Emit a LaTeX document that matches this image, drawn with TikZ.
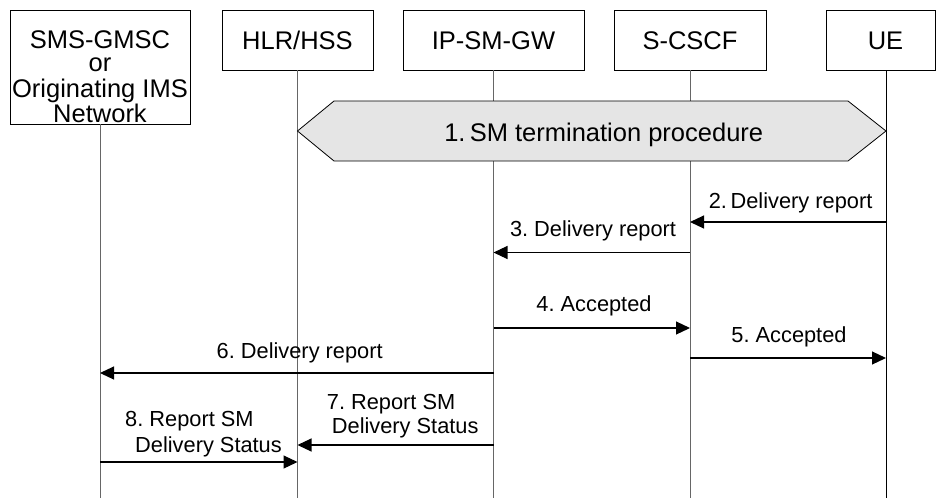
\documentclass[tikz,border=0pt]{standalone}
\usepackage{fontspec}
\setmainfont{Liberation Sans}
\usetikzlibrary{arrows.meta}
\frenchspacing
\begin{document}
\begin{tikzpicture}[x=1pt,y=-1pt,
  ent/.style={draw=black,line width=0.9pt,minimum height=60pt,inner sep=0pt,
    font=\fontsize{25.5}{23.3}\selectfont,text height=18.3pt,text depth=0pt},
  life/.style={draw=black!60,line width=1pt},
  msg/.style={draw=black,line width=1.1pt,-{Triangle[length=14pt,width=13pt]}},
  lbl/.style={inner sep=0pt,anchor=base,font=\fontsize{21.8}{24}\selectfont\frenchspacing},
  proc/.style={draw=black,line width=0.8pt,fill=black!10}]
\useasboundingbox (0,0) rectangle (936,498);

% entities
\node[ent,minimum width=180pt,minimum height=114pt,text height=32.5pt,text depth=70pt]
  (gmsc) at (100,67) {\begin{tabular}[t]{@{}c@{}}SMS-GMSC\\or\\Originating IMS\\Network\end{tabular}};
\node[ent,minimum width=151pt] (hlr) at (297.5,40) {HLR/HSS};
\node[ent,minimum width=181pt] (ipsm) at (493.5,40) {IP-SM-GW};
\node[ent,minimum width=152pt] (scscf) at (690,40) {S-CSCF};
\node[ent,minimum width=109.5pt] (ue) at (880.75,40) {\hspace*{9.5pt}UE};

% lifeline ends
\coordinate (gmscEnd) at (100,498);
\coordinate (hlrEnd) at (297.5,498);
\coordinate (ipsmEnd) at (493.5,498);
\coordinate (scscfEnd) at (690,498);
\coordinate (ueEnd) at (886,498);

\draw[life] (gmsc) -- (gmscEnd);
\draw[life] (hlr) -- (hlrEnd);
\draw[life] (ipsm) -- (ipsmEnd);
\draw[life] (scscf) -- (scscfEnd);
\draw[draw=black,line width=1pt] (ue.south -| ueEnd) -- (ueEnd);

% procedure hexagon
\draw[proc] (297.5,131) -- (334,101) -- (848,101) -- (886,131) -- (848,161) -- (334,161) -- cycle;
\node[lbl,font=\fontsize{25.5}{28}\selectfont] (smterm) at (603.7,141.7) {1.\,SM termination procedure};

% message points
\coordinate (m2a) at (886,222);   \coordinate (m2b) at (690,222);
\coordinate (m3a) at (690,252.5); \coordinate (m3b) at (493.5,252.5);
\coordinate (m4a) at (493.5,328); \coordinate (m4b) at (690,328);
\coordinate (m5a) at (690,358);   \coordinate (m5b) at (886,358);
\coordinate (m6a) at (493.5,373); \coordinate (m6b) at (100,373);
\coordinate (m7a) at (493.5,445); \coordinate (m7b) at (297.5,445);
\coordinate (m8a) at (100,462);   \coordinate (m8b) at (297.5,462);

\draw[msg] (m2a) -- (m2b);
\draw[msg] (m3a) -- (m3b);
\draw[msg] (m4a) -- (m4b);
\draw[msg] (m5a) -- (m5b);
\draw[msg] (m6a) -- (m6b);
\draw[msg] (m7a) -- (m7b);
\draw[msg] (m8a) -- (m8b);

% labels
\node[lbl] (l2) at (790.6,208) {2.\,Delivery report};
\node[lbl] (l3) at (593,236.7) {3. Delivery report};
\node[lbl] (l4) at (594,311.7) {4. Accepted};
\node[lbl] (l5) at (789,342) {5. Accepted};
\node[lbl] (l6) at (299.7,358.3) {6. Delivery report};
\node[lbl,anchor=base west] (l7) at (326.7,409.3)
  {\begin{tabular}[t]{@{}l@{}}7. Report SM\\\hspace*{5pt}Delivery Status\end{tabular}};
\node[lbl,anchor=base west] (l8) at (125,426.7)
  {\begin{tabular}[t]{@{}l@{}}8. Report SM\\[2pt]\hspace*{10pt}Delivery Status\end{tabular}};
\end{tikzpicture}
\end{document}
